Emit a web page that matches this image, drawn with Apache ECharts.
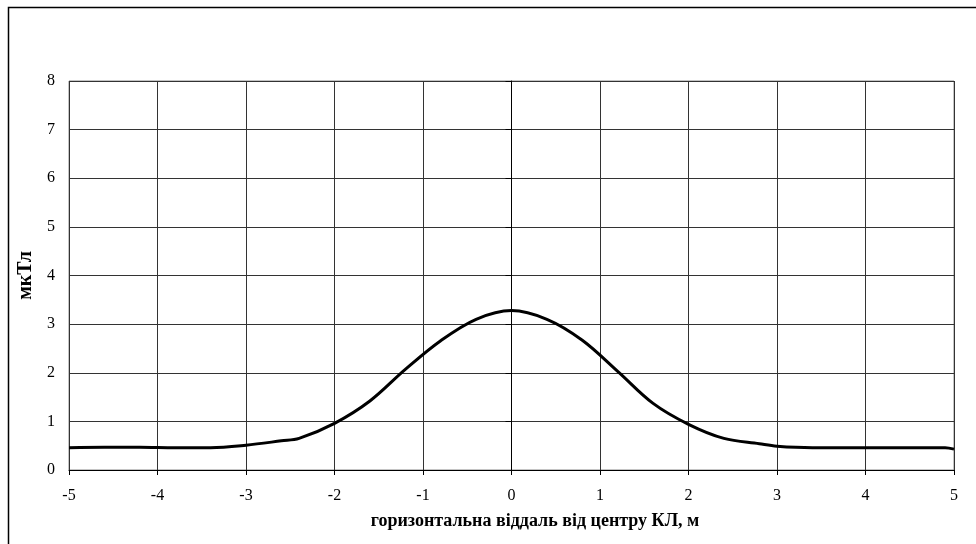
<!DOCTYPE html>
<html>
<head>
<meta charset="utf-8">
<script src="https://cdn.jsdelivr.net/npm/echarts@6/dist/echarts.min.js"></script>
<style>
html,body{margin:0;padding:0;background:#fff;}
#c{width:976px;height:544px;}
</style>
</head>
<body>
<div id="c"></div>
<script>
var xValues = [-5, -4.6, -4.2, -3.8, -3.4, -3.0, -2.6, -2.4, -2.0, -1.6, -1.2, -0.8, -0.4, 0, 0.4, 0.8, 1.2, 1.6, 2.0, 2.4, 2.8, 3.0, 3.4, 3.8, 4.2, 4.6, 4.9, 5.0];
var fieldValues = [0.46, 0.47, 0.47, 0.46, 0.46, 0.51, 0.60, 0.65, 0.96, 1.42, 2.07, 2.66, 3.10, 3.28, 3.10, 2.67, 2.03, 1.37, 0.94, 0.65, 0.54, 0.49, 0.46, 0.46, 0.46, 0.46, 0.46, 0.43];
var xAxisTitle = 'горизонтальна віддаль від центру КЛ, м';
var yAxisTitle = 'мкТл';

var data = xValues.map(function (x, i) { return [x, fieldValues[i]]; });
var font = '"Liberation Serif", "Times New Roman", serif';

var chart = echarts.init(document.getElementById('c'), null, {renderer: 'canvas'});
chart.setOption({
  animation: false,
  backgroundColor: '#fff',
  grid: {left: 69, right: 22, top: 81, bottom: 74, show: true, borderColor: '#888', borderWidth: 1, backgroundColor: 'transparent'},
  xAxis: {
    type: 'value', min: -5, max: 5, interval: 1,
    axisLine: {onZero: false, lineStyle: {color: '#000', width: 1}},
    axisTick: {show: true, inside: false, length: 5, lineStyle: {color: '#000'}},
    axisLabel: {color: '#000', fontFamily: font, fontSize: 16, margin: 18},
    splitLine: {show: true, lineStyle: {color: '#333', width: 1}}
  },
  yAxis: {
    type: 'value', min: 0, max: 8, interval: 1,
    name: yAxisTitle, nameLocation: 'middle', nameGap: 27,
    nameTextStyle: {color: '#000', fontFamily: font, fontSize: 20, fontWeight: 'bold'},
    axisLine: {show: true, lineStyle: {color: '#000', width: 1}},
    axisTick: {show: true, inside: false, length: 6, lineStyle: {color: '#000'}},
    axisLabel: {color: '#000', fontFamily: font, fontSize: 16, margin: 14},
    splitLine: {show: true, lineStyle: {color: '#333', width: 1}}
  },
  graphic: [
    {type: 'rect', shape: {x: 8.5, y: 7.5, width: 1000, height: 600}, style: {fill: 'none', stroke: '#000', lineWidth: 1.5}, silent: true, z: 100},
    {type: 'text', x: 535, y: 521, style: {text: xAxisTitle, fill: '#000', font: 'bold 18px ' + font, textAlign: 'center', textVerticalAlign: 'middle'}}
  ],
  series: [{
    type: 'line', data: data, smooth: 0.35, showSymbol: false,
    lineStyle: {color: '#000', width: 3}
  }]
});
</script>
</body>
</html>
